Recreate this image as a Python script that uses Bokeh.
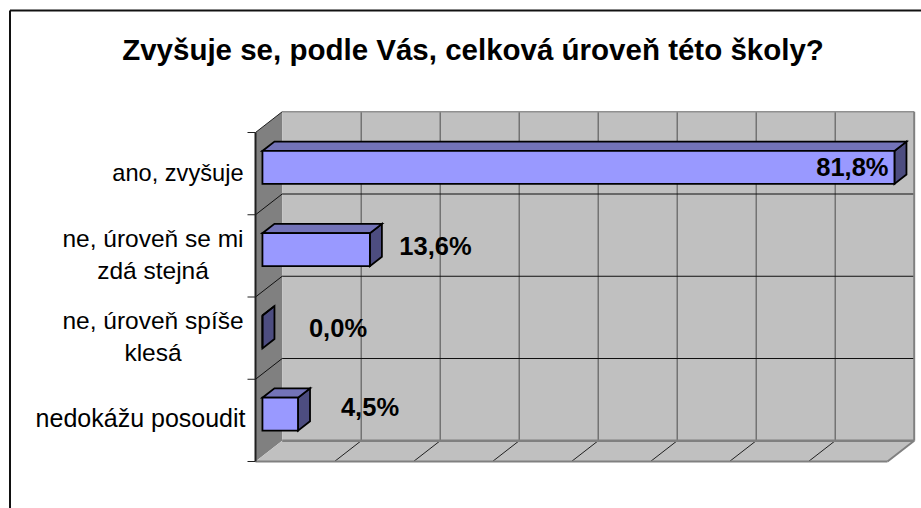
from bokeh.plotting import figure
from bokeh.models import Range1d
from bokeh.core.properties import value
from bokeh.embed import file_html
from bokeh.resources import INLINE

title = "Zvyšuje se, podle Vás, celková úroveň této školy?"
categories = ["ano, zvyšuje", "ne, úroveň se mi\nzdá stejná", "ne, úroveň spíše\nklesá", "nedokážu posoudit"]
values = [81.8, 13.6, 0.0, 4.5]
value_labels = ["81,8%", "13,6%", "0,0%", "4,5%"]
axis_ticks = [0, 10, 20, 30, 40, 50, 60, 70, 80]
AXIS_MAX = 80

# layout (page pixels of the picture)
W, H = 921, 508
PX0, PY0 = 255, 461       # front-left corner of the floor
PXU, PYU = 7.9, 82.25     # px per percent, px per category band
DX, DY = 26.7 / PXU, 20.75 / PYU  # full depth of the 3-D box in data units
FONT = value("Liberation Sans")

def X(px): return (px - PX0) / PXU
def Y(py): return (PY0 - py) / PYU

def proj(v, c, z=0.0):
    return (v + DX * z, c + DY * z)

def poly(pts):
    return [p[0] for p in pts], [p[1] for p in pts]

p = figure(width=W, height=H, output_backend="svg", toolbar_location=None,
           x_range=Range1d(X(0), X(W)), y_range=Range1d(Y(H), Y(0)),
           min_border=0, outline_line_color=None, background_fill_color="white")
p.axis.visible = False
p.grid.visible = False

n = len(categories)
# walls and floor
xs, ys = poly([proj(0, 0), proj(0, n), proj(0, n, 1), proj(0, 0, 1)])
p.patch(xs, ys, fill_color="#808080", line_color=None)
xs, ys = poly([proj(0, 0, 1), proj(0, n, 1), proj(AXIS_MAX, n, 1), proj(AXIS_MAX, 0, 1)])
p.patch(xs, ys, fill_color="#C0C0C0", line_color=None)
xs, ys = poly([proj(0, 0), proj(AXIS_MAX, 0), proj(AXIS_MAX, 0, 1), proj(0, 0, 1)])
p.patch(xs, ys, fill_color="#C0C0C0", line_color=None)

# grid on the wall (vertical), floor diagonals
for t in axis_ticks[1:-1]:
    a, b = proj(t, 0, 1), proj(t, n, 1)
    p.line([a[0], b[0]], [a[1], b[1]], line_color="#606060", line_width=1.2)
    a, b = proj(t, 0, 0), proj(t, 0, 1)
    p.line([a[0], b[0]], [a[1], b[1]], line_color="#202020", line_width=1)
# horizontal grid + side wall diagonals + ticks
for c in range(n + 1):
    back = proj(0, c, 1)
    front = proj(0, c, 0)
    end = proj(AXIS_MAX, c, 1)
    if 0 < c < n:
        p.line([back[0], end[0]], [back[1], end[1]], line_color="#101010", line_width=1)
        p.line([front[0], back[0]], [front[1], back[1]], line_color="#101010", line_width=1)
    p.line([X(247), front[0]], [front[1], front[1]], line_color="#202020", line_width=1)

# frame edges
def edge(a, b, color, w):
    p.line([a[0], b[0]], [a[1], b[1]], line_color=color, line_width=w)
edge(proj(0, 0, 1), proj(AXIS_MAX, 0, 1), "#808080", 2.5)
edge(proj(0, n, 1), proj(AXIS_MAX, n, 1), "#909090", 1.5)
edge(proj(AXIS_MAX, 0, 1), proj(AXIS_MAX, n, 1), "#808080", 2)
edge(proj(0, 0, 0), proj(AXIS_MAX, 0, 0), "#808080", 2)
edge(proj(AXIS_MAX, 0, 0), proj(AXIS_MAX, 0, 1), "#808080", 2)
edge(proj(0, 0, 0), proj(0, n, 0), "#202020", 2)
edge(proj(0, n, 0), proj(0, n, 1), "#202020", 1)

# bars (clipped at the axis maximum, as the original chart does)
Z0, Z1 = 0.26, 0.71
GAP_LO, GAP_HI = 0.31, 0.71
for i, v in enumerate(values):
    c0 = n - 1 - i + GAP_LO
    c1 = n - 1 - i + GAP_HI
    w = min(v, AXIS_MAX)
    side = [proj(w, c0, Z0), proj(w, c1, Z0), proj(w, c1, Z1), proj(w, c0, Z1)]
    top = [proj(0, c1, Z0), proj(w, c1, Z0), proj(w, c1, Z1), proj(0, c1, Z1)]
    front = [proj(0, c0, Z0), proj(w, c0, Z0), proj(w, c1, Z0), proj(0, c1, Z0)]
    for pts, col in ((side, "#4D4D80"), (top, "#7373B8"), (front, "#9999FF")):
        xs, ys = poly(pts)
        p.patch(xs, ys, fill_color=col, line_color="#000000", line_width=1.8, line_join="miter")

# category labels
label_cx = [None, 152.5, 152.5, None]
label_right = [243, None, None, 245]
label_size = ["23.6px", "24.5px", "24.5px", "25px"]
line_y = [[172], [238, 270], [320, 352], [417]]
for lab, cx, rx, fs, ly in zip(categories, label_cx, label_right, label_size, line_y):
    for line, py in zip(lab.split("\n"), ly):
        p.text([X(cx if cx else rx)], [Y(py)], text=[line], text_font=FONT,
               text_font_size=fs, text_color="#000000",
               text_align="center" if cx else "right", text_baseline="middle")

# value labels
label_px = [888, 435, 337.5, 369.5]
label_py = [166, 245, 327, 406]
aligns = ["right", "center", "center", "center"]
for t, lx, ly, al in zip(value_labels, label_px, label_py, aligns):
    p.text([X(lx)], [Y(ly)], text=[t], text_font=FONT, text_font_style="bold",
           text_font_size="25.5px", text_color="#000000", text_align=al, text_baseline="middle")

# title
p.text([X(472.5)], [Y(48.5)], text=[title], text_font=FONT, text_font_style="bold",
       text_font_size="29.5px", text_color="#000000", text_align="center", text_baseline="middle")

# chart border (top + left visible in the crop)
p.line([X(9.5), X(9.5)], [Y(H), Y(10)], line_color="#111111", line_width=2)
p.line([X(9.5), X(W)], [Y(10), Y(10)], line_color="#111111", line_width=2)

open("out.html", "w").write(file_html(p, INLINE))
